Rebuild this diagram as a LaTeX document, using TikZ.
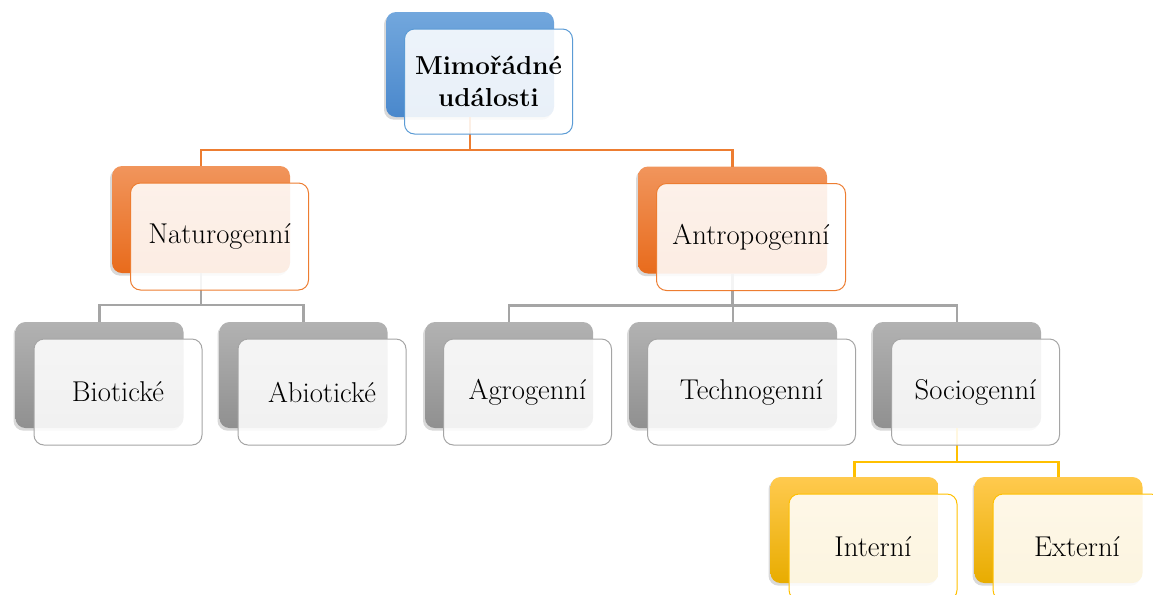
\documentclass[tikz,border=0pt]{standalone}
\usetikzlibrary{calc,shadows}
\definecolor{blueTop}{HTML}{72A7DD}
\definecolor{blueBot}{HTML}{4A88CC}
\definecolor{blueLine}{HTML}{5B9BD5}
\definecolor{orangeTop}{HTML}{F1955C}
\definecolor{orangeBot}{HTML}{E86B1C}
\definecolor{orangeLine}{HTML}{ED7D31}
\definecolor{grayTop}{HTML}{B2B2B2}
\definecolor{grayBot}{HTML}{909090}
\definecolor{grayLine}{HTML}{A5A5A5}
\definecolor{yellowTop}{HTML}{FFCA4E}
\definecolor{yellowBot}{HTML}{E8AC00}
\definecolor{yellowLine}{HTML}{FFC000}
\tikzset{
  back/.style={rounded corners=7.5pt, inner sep=0pt, outer sep=0pt,
    drop shadow={shadow xshift=-1.5pt, shadow yshift=-2pt, opacity=0.3}},
  front/.style={rounded corners=7.5pt, inner sep=0pt, outer sep=0pt, line width=0.75pt,
    fill=white, fill opacity=0.88, text opacity=1, align=center,
    font=\fontsize{21.5}{26}\selectfont},
  boxstd/.style={minimum width=126pt, minimum height=79.5pt},
  link/.style={line width=2pt},
}
\begin{document}
\begin{tikzpicture}[x=0.75pt,y=0.75pt,yscale=-1,xscale=1]
\useasboundingbox (0,0) rectangle (1153,594);
% Back boxes
\node[back, top color=blueTop, bottom color=blueBot, minimum width=126pt, minimum height=78.75pt] (mu) at (470,64.5) {};
\node[back, top color=orangeTop, bottom color=orangeBot, minimum width=133.5pt, minimum height=80.25pt] (nat) at (201,219.5) {};
\node[back, top color=orangeTop, bottom color=orangeBot, minimum width=141.75pt, minimum height=80.25pt] (antr) at (732.5,220) {};
\node[back, boxstd, top color=grayTop, bottom color=grayBot] (bio) at (99.5,375) {};
\node[back, boxstd, top color=grayTop, bottom color=grayBot] (abio) at (303.5,375) {};
\node[back, boxstd, top color=grayTop, bottom color=grayBot] (agro) at (509,375) {};
\node[back, boxstd, top color=grayTop, bottom color=grayBot, minimum width=156pt] (tech) at (733,375) {};
\node[back, boxstd, top color=grayTop, bottom color=grayBot] (socio) at (957,375) {};
\node[back, boxstd, top color=yellowTop, bottom color=yellowBot] (int) at (854.5,530) {};
\node[back, boxstd, top color=yellowTop, bottom color=yellowBot] (ext) at (1058.5,530) {};

% Connectors
\draw[link, orangeLine] (mu.south) -- ++(0,33) -| (nat.north);
\draw[link, orangeLine] (mu.south) -- ++(0,33) -| (antr.north);
\draw[link, grayLine] (nat.south) -- ++(0,32) -| (bio.north);
\draw[link, grayLine] (nat.south) -- ++(0,32) -| (abio.north);
\draw[link, grayLine] (antr.south) -- ++(0,32) -| (agro.north);
\draw[link, grayLine] (antr.south) -- ++(0,32) -| (tech.north);
\draw[link, grayLine] (antr.south) -- ++(0,32) -| (socio.north);
\draw[link, yellowLine] (socio.south) -- ++(0,34) -| (int.north);
\draw[link, yellowLine] (socio.south) -- ++(0,34) -| (ext.north);

% Front boxes
\node[front, draw=blueLine, minimum width=126pt, minimum height=78.75pt, font=\fontsize{19.5}{24}\selectfont\bfseries] (mu-t) at ($(mu)+(18.5,17)$) {Mimořádné\\události};
\node[front, draw=orangeLine, minimum width=133.5pt, minimum height=80.25pt] (nat-t) at ($(nat)+(18.5,17)$) {Naturogenní};
\node[front, draw=orangeLine, minimum width=141.75pt, minimum height=80.25pt] (antr-t) at ($(antr)+(18.5,17)$) {Antropogenní};
\node[front, boxstd, draw=grayLine] (bio-t) at ($(bio)+(18.5,17)$) {Biotické};
\node[front, boxstd, draw=grayLine] (abio-t) at ($(abio)+(18.5,17)$) {Abiotické};
\node[front, boxstd, draw=grayLine] (agro-t) at ($(agro)+(18.5,17)$) {Agrogenní};
\node[front, boxstd, draw=grayLine, minimum width=156pt] (tech-t) at ($(tech)+(18.5,17)$) {Technogenní};
\node[front, boxstd, draw=grayLine] (socio-t) at ($(socio)+(18.5,17)$) {Sociogenní};
\node[front, boxstd, draw=yellowLine] (int-t) at ($(int)+(18.5,17)$) {Interní};
\node[front, boxstd, draw=yellowLine] (ext-t) at ($(ext)+(18.5,17)$) {Externí};
\end{tikzpicture}
\end{document}
